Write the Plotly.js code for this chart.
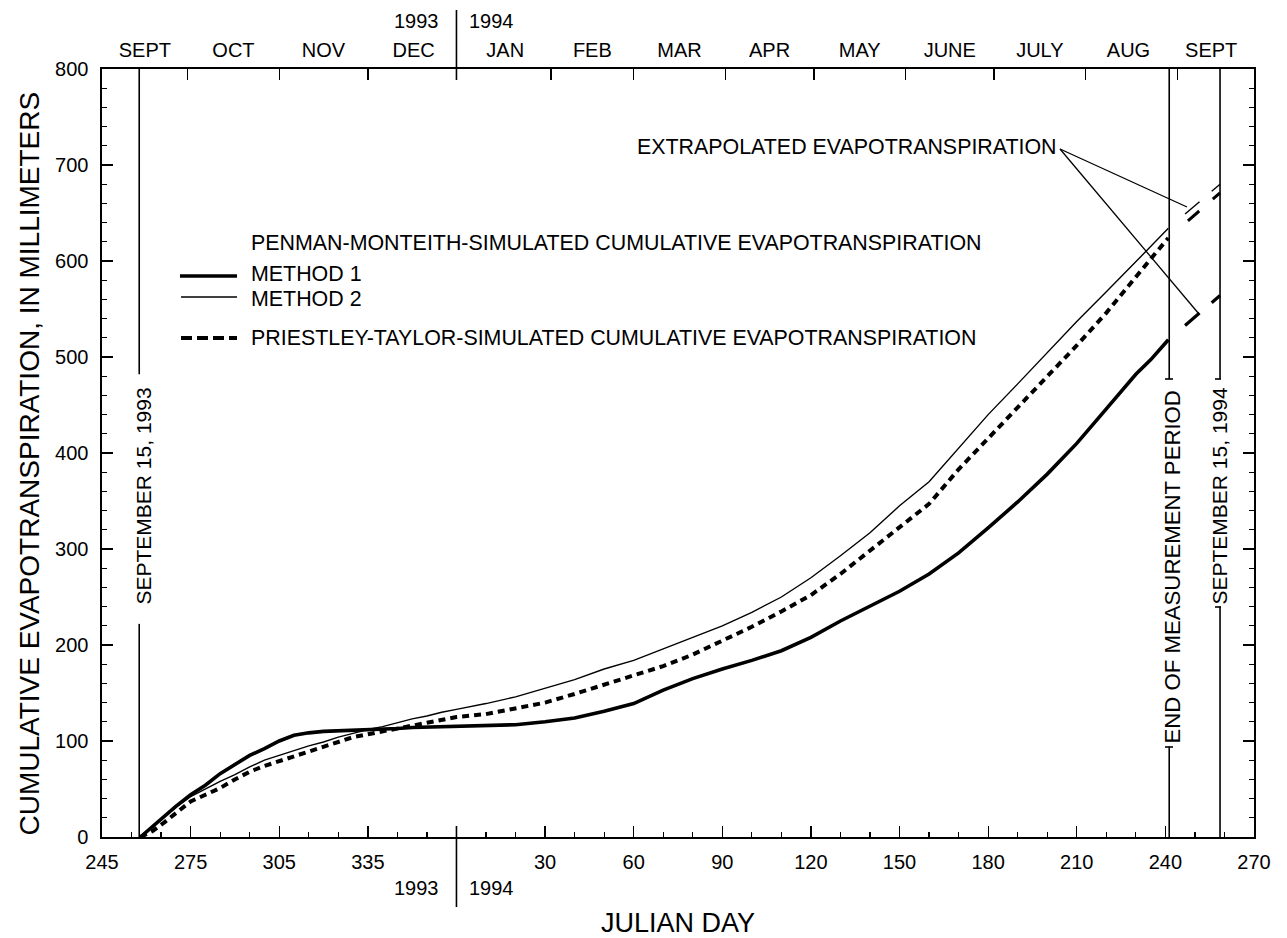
<!DOCTYPE html>
<html>
<head>
<meta charset="utf-8">
<script src="https://cdn.plot.ly/plotly-3.0.1.min.js"></script>
<style>
  html, body { margin: 0; padding: 0; background: #fff; }
  #chart { width: 1287px; height: 938px; }
</style>
</head>
<body>
<div id="chart"></div>
<script>
// Continuous day axis: 1993 Julian days as-is, 1994 Julian days shifted by 365.
const YEAR_SHIFT = 365;

// Simulation days (continuous), from September 15, 1993 to the end of the measurement period.
const day = [258, 262, 266, 270, 275, 280, 285, 290, 295, 300, 305, 310, 315, 320, 325, 330,
             335, 340, 345, 350, 355, 360, 365, 375, 385, 395, 405, 415, 425, 435, 445, 455,
             465, 475, 485, 495, 505, 515, 525, 535, 545, 555, 565, 575, 585, 595, 600, 606];

// Penman-Monteith simulated cumulative evapotranspiration, mm
const pmMethod1 = [0, 11, 22, 32, 44, 54, 66, 76, 85, 92, 100, 106, 108.5, 110, 110.5, 111,
                   111.5, 112, 113, 114, 114.5, 115, 115.5, 116, 117, 120, 124, 131, 139, 153, 165, 175,
                   184, 194, 208, 225, 241, 256, 274, 296, 322, 349, 378, 410, 446, 482, 497, 518];
const pmMethod2 = [0, 10, 21, 31, 42, 50, 58, 65, 73, 80, 85, 90, 95, 99, 104, 108,
                   112, 115, 119, 123, 126, 130, 133, 139, 146, 155, 164, 175, 184, 196, 208, 220,
                   234, 250, 270, 293, 317, 345, 370, 405, 440, 472, 505, 537, 568, 600, 615, 634];
// Priestley-Taylor simulated cumulative evapotranspiration, mm
const ptSim = [0, 6, 15, 25, 37, 44, 51, 60, 68, 74, 79, 85, 90, 95, 100, 104,
               107, 110, 113, 117, 120, 123, 125, 128, 134, 140, 149, 159, 169, 178, 190, 204,
               219, 235, 252, 274, 298, 322, 347, 383, 415, 447, 480, 512, 546, 584, 602, 624];

// Extrapolation from the end of measurement to September 15, 1994
const extrapDay = [606, 623.5];
const extrapMethod1 = [518, 564];
const extrapMethod2 = [634, 680];
const extrapPT = [624, 671];

// Reference dates (continuous days)
const sept15_1993 = 257.6;
const endOfMeasurement = 606.3;
const sept15_1994 = 623.5;
const yearBoundary = 365;

// Bottom axis ticks
const xTickVals = [245, 275, 305, 335, 395, 425, 455, 485, 515, 545, 575, 605, 635];
const xTickText = ['245', '275', '305', '335', '30', '60', '90', '120', '150', '180', '210', '240', '270'];

// Top axis: month boundaries and month names
const monthStart = [274, 305, 335, 397, 425, 456, 486, 517, 547, 578, 609];
const monthMid = [259.5, 289.5, 320, 350.5, 381.5, 411, 440.5, 471, 501.5, 532, 562.5, 592.5, 620.5];
const monthName = ['SEPT', 'OCT', 'NOV', 'DEC', 'JAN', 'FEB', 'MAR', 'APR', 'MAY', 'JUNE', 'JULY', 'AUG', 'SEPT'];

// Left axis ticks
const yTickVals = [0, 100, 200, 300, 400, 500, 600, 700, 800];

const FONT = 'Liberation Sans, Arial, Helvetica, sans-serif';
const BLACK = '#000000';

// Plot area in pixels
const M = { l: 102, r: 33, t: 69, b: 101 };
const W = 1287, H = 938;
const PW = W - M.l - M.r, PH = H - M.t - M.b;
const px = p => (p - M.l) / PW;        // page x -> paper x
const py = p => (H - M.b - p) / PH;    // page y -> paper y

const traces = [
  { x: day, y: pmMethod1, type: 'scatter', mode: 'lines', name: 'METHOD 1',
    line: { color: BLACK, width: 3.6 }, hoverinfo: 'skip' },
  { x: day, y: pmMethod2, type: 'scatter', mode: 'lines', name: 'METHOD 2',
    line: { color: BLACK, width: 1.4 }, hoverinfo: 'skip' },
  { x: day, y: ptSim, type: 'scatter', mode: 'lines', name: 'PRIESTLEY-TAYLOR',
    line: { color: BLACK, width: 4, dash: '7px,5px' }, hoverinfo: 'skip' },
  { x: extrapDay, y: extrapMethod1, type: 'scatter', mode: 'lines', xaxis: 'x2', yaxis: 'y',
    line: { color: BLACK, width: 3.2, dash: '0px,22px,19px,16px,40px' }, hoverinfo: 'skip' },
  { x: extrapDay, y: extrapMethod2, type: 'scatter', mode: 'lines', xaxis: 'x2', yaxis: 'y',
    line: { color: BLACK, width: 1.4, dash: '0px,22px,19px,16px,40px' }, hoverinfo: 'skip' },
  { x: extrapDay, y: extrapPT, type: 'scatter', mode: 'lines', xaxis: 'x2', yaxis: 'y',
    line: { color: BLACK, width: 3, dash: '0px,26px,15px,18px,40px' }, hoverinfo: 'skip' }
];

const textFont = { family: FONT, size: 21.4, color: BLACK };

const shapes = [];
function vseg(x, y0, y1, w) {
  shapes.push({ type: 'line', xref: 'x', yref: 'y', x0: x, x1: x, y0: y0, y1: y1,
                line: { color: BLACK, width: w || 1.6 } });
}
function pseg(x0, y0, x1, y1, w, dash) {
  shapes.push({ type: 'line', xref: 'paper', yref: 'paper', x0: px(x0), x1: px(x1), y0: py(y0), y1: py(y1),
                line: { color: BLACK, width: w, dash: dash || 'solid' } });
}

// Reference date lines, broken where their labels sit
vseg(sept15_1993, 800, 482);
vseg(sept15_1993, 222, 0);
vseg(endOfMeasurement, 800, 477);
vseg(endOfMeasurement, 94, 0);
vseg(sept15_1994, 800, 477);
vseg(sept15_1994, 240, 0);
pseg(1165, 379, 1173, 379, 1.6);
pseg(1165, 747, 1173, 747, 1.6);
pseg(1215, 379, 1221, 379, 1.6);
pseg(1215, 607, 1221, 607, 1.6);

// Year boundary marks above and below the plot
const yb = M.l + (yearBoundary - 245) / (635 - 245) * PW;
pseg(yb, 10, yb, 80, 1.6);
pseg(yb, 826, yb, 907, 1.6);

// Leader lines from the extrapolation label
pseg(1060, 149, 1187, 207, 1.3);
pseg(1060, 149, 1199, 314, 1.3);

// Legend samples
pseg(180, 276, 237, 276, 3.6);
pseg(181, 297, 237, 297, 1.4);
pseg(181, 338, 237, 338, 4, '11px,5px');

const annotations = [
  { text: 'PENMAN-MONTEITH-SIMULATED CUMULATIVE EVAPOTRANSPIRATION', x: px(250), y: py(243) },
  { text: 'METHOD 1', x: px(250), y: py(273.5) },
  { text: 'METHOD 2', x: px(250), y: py(298.5) },
  { text: 'PRIESTLEY-TAYLOR-SIMULATED CUMULATIVE EVAPOTRANSPIRATION', x: px(250), y: py(338) }
].map(a => Object.assign({ xref: 'paper', yref: 'paper', xanchor: 'left', yanchor: 'middle',
                           showarrow: false, font: textFont, borderpad: 0 }, a));

const yearFont = { family: FONT, size: 20, color: BLACK };
annotations.push(
  { text: 'CUMULATIVE EVAPOTRANSPIRATION, IN MILLIMETERS', xref: 'paper', yref: 'paper',
    x: px(28.5), y: py(464), textangle: -90, xanchor: 'center', yanchor: 'middle', showarrow: false,
    font: { family: FONT, size: 28, color: BLACK } },
  { text: 'EXTRAPOLATED EVAPOTRANSPIRATION', xref: 'paper', yref: 'paper', x: px(1059), y: py(147),
    xanchor: 'right', yanchor: 'middle', showarrow: false, font: textFont },
  { text: 'SEPTEMBER 15, 1993', xref: 'paper', yref: 'paper', x: px(143.5), y: py(496), textangle: -90,
    xanchor: 'center', yanchor: 'middle', showarrow: false, font: { family: FONT, size: 21, color: BLACK } },
  { text: 'END OF MEASUREMENT PERIOD', xref: 'paper', yref: 'paper', x: px(1171.5), y: py(567), textangle: -90,
    xanchor: 'center', yanchor: 'middle', showarrow: false, font: { family: FONT, size: 22.2, color: BLACK } },
  { text: 'SEPTEMBER 15, 1994', xref: 'paper', yref: 'paper', x: px(1219.5), y: py(496), textangle: -90,
    xanchor: 'center', yanchor: 'middle', showarrow: false, font: { family: FONT, size: 21, color: BLACK } },
  { text: '1993', xref: 'paper', yref: 'paper', x: px(yb - 15), y: py(21),
    xanchor: 'right', yanchor: 'middle', showarrow: false, font: yearFont },
  { text: '1994', xref: 'paper', yref: 'paper', x: px(yb + 11), y: py(21),
    xanchor: 'left', yanchor: 'middle', showarrow: false, font: yearFont },
  { text: '1993', xref: 'paper', yref: 'paper', x: px(yb - 15), y: py(888),
    xanchor: 'right', yanchor: 'middle', showarrow: false, font: yearFont },
  { text: '1994', xref: 'paper', yref: 'paper', x: px(yb + 11), y: py(888),
    xanchor: 'left', yanchor: 'middle', showarrow: false, font: yearFont }
);

const tickFont = { family: FONT, size: 20, color: BLACK };

const layout = {
  width: W, height: H,
  margin: M,
  paper_bgcolor: '#ffffff',
  plot_bgcolor: '#ffffff',
  showlegend: false,
  font: { family: FONT, color: BLACK },
  xaxis: {
    range: [245, 635], showgrid: false, zeroline: false,
    showline: true, linecolor: BLACK, linewidth: 1.6, mirror: true,
    tickmode: 'array', tickvals: xTickVals, ticktext: xTickText,
    ticks: 'inside', ticklen: 11, tickwidth: 1.3, tickcolor: BLACK,
    minor: { tickmode: 'linear', tick0: 245, dtick: 10, ticks: 'inside', ticklen: 5, tickwidth: 1.2, tickcolor: BLACK },
    tickfont: tickFont, ticklabelstandoff: 6,
    title: { text: 'JULIAN DAY', font: { family: FONT, size: 27, color: BLACK }, standoff: 51 }
  },
  xaxis2: {
    overlaying: 'x', side: 'top', anchor: 'y',
    range: [245, 635], showgrid: false, zeroline: false, showline: false,
    tickmode: 'array', tickvals: monthMid, ticktext: monthName,
    ticks: 'inside', ticklen: 0, tickwidth: 0.01, tickcolor: BLACK,
    minor: { tickmode: 'array', tickvals: monthStart, ticks: 'inside', ticklen: 11, tickwidth: 1.3, tickcolor: BLACK },
    tickfont: tickFont, ticklabelstandoff: 7
  },
  yaxis: {
    range: [0, 800], showgrid: false, zeroline: false,
    showline: true, linecolor: BLACK, linewidth: 1.6, mirror: 'ticks',
    tickmode: 'array', tickvals: yTickVals,
    ticks: 'inside', ticklen: 11, tickwidth: 1.3, tickcolor: BLACK,
    minor: { tickmode: 'linear', tick0: 0, dtick: 20, ticks: 'inside', ticklen: 5, tickwidth: 1.2, tickcolor: BLACK },
    tickfont: tickFont, ticklabelstandoff: 8
  },
  shapes: shapes,
  annotations: annotations
};

Plotly.newPlot('chart', traces, layout, { staticPlot: true, displayModeBar: false });
</script>
</body>
</html>
